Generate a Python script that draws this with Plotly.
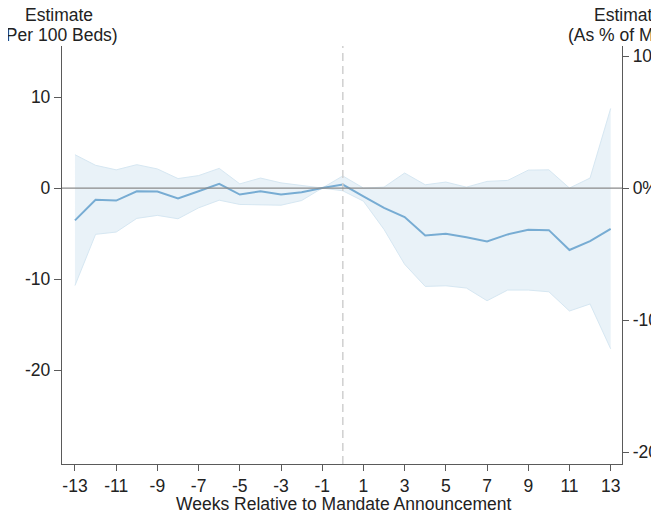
import plotly.graph_objects as go

weeks = list(range(-13, 14))
estimate = [-3.55, -1.29, -1.37, -0.35, -0.38, -1.15, -0.35, 0.46, -0.71, -0.35, -0.71, -0.46, 0.0,
            0.38, -0.9, -2.17, -3.19, -5.2, -5.02, -5.39, -5.86, -5.09, -4.58, -4.62, -6.8, -5.82, -4.47]
ci_upper = [3.66, 2.5, 2.0, 2.57, 2.1, 1.04, 1.37, 2.16, 0.46, 1.1, 0.57, 0.3, 0.0,
            1.33, 0.0, 0.1, 1.65, 0.36, 0.66, 0.1, 0.73, 0.84, 1.97, 2.0, 0.0, 1.1, 8.74]
ci_lower = [-10.7, -5.08, -4.83, -3.33, -3.0, -3.37, -2.17, -1.33, -1.8, -1.84, -1.88, -1.37, 0.0,
            -0.3, -1.44, -4.54, -8.37, -10.8, -10.73, -10.98, -12.37, -11.2, -11.2, -11.39, -13.5, -12.73, -17.65]

x_ticks = list(range(-13, 14, 2))
x_tick_labels = [str(v) for v in x_ticks]
left_ticks = [10, 0, -10, -20]
left_tick_labels = ["10", "0", "-10", "-20"]
right_ticks = [10, 0, -10, -20]
right_tick_labels = ["10%", "0%", "-10%", "-20%"]
mean_level = 145.0  # per 100 beds, used to scale the % axis

y_range = [-30.3, 15.6]
y2_range = [v * 100.0 / mean_level for v in y_range]

FONT = "Liberation Sans, Arial, Helvetica, sans-serif"
FS = 17.5
AX = "#5a5a5a"

fig = go.Figure()
fig.add_trace(go.Scatter(x=weeks, y=ci_upper, mode="lines",
                         line=dict(color="#d6e7f2", width=1), hoverinfo="skip", showlegend=False))
fig.add_trace(go.Scatter(x=weeks, y=ci_lower, mode="lines", fill="tonexty",
                         fillcolor="rgba(225,238,246,0.75)",
                         line=dict(color="#d6e7f2", width=1), hoverinfo="skip", showlegend=False))
fig.add_trace(go.Scatter(x=weeks, y=estimate, mode="lines",
                         line=dict(color="#77acd3", width=2), showlegend=False))
fig.add_trace(go.Scatter(x=[], y=[], yaxis="y2", showlegend=False))

fig.add_shape(type="line", xref="x", yref="paper", x0=0, x1=0, y0=0, y1=1,
              line=dict(color="#cfcfcf", width=1.5, dash="8px,5px"), layer="above")
fig.add_shape(type="line", xref="paper", yref="y", x0=0, x1=1, y0=0, y1=0,
              line=dict(color="#8a8a8a", width=1.3), layer="above")

common = dict(showgrid=False, zeroline=False, showline=True, linecolor=AX, linewidth=1.3,
              ticks="outside", tickcolor=AX, tickwidth=1.2, tickfont=dict(size=FS),
              automargin=False)

# page has an 8px body margin; figure is sized to fit the remaining window
fig.update_layout(
    width=651, height=505,
    margin=dict(l=54, r=37, t=38, b=49),
    paper_bgcolor="white", plot_bgcolor="white",
    font=dict(family=FONT, size=FS, color="#222"),
    xaxis=dict(range=[-13.63, 13.55], tickvals=x_ticks, ticktext=x_tick_labels, ticklen=6, **common),
    yaxis=dict(range=y_range, tickvals=left_ticks, ticktext=left_tick_labels, ticklen=7, **common),
    yaxis2=dict(range=y2_range, overlaying="y", side="right", tickvals=right_ticks,
                ticktext=right_tick_labels, ticklen=6, **common),
)

def px_x(p):
    return (p - 62) / 560.0

def px_y(p):
    return 1 - (p - 46) / 418.0

ann = [
    ("Estimate", 58.5, 15.5),
    ("(Per 100 Beds)", 58.5, 34.5),
    ("Estimate", 628, 15.5),
    ("(As % of Mean)", 628, 34.5),
    ("Weeks Relative to Mandate Announcement", 343, 503.5),
]
for txt, xp, yp in ann:
    fig.add_annotation(text=txt, xref="paper", yref="paper", x=px_x(xp), y=px_y(yp),
                       xanchor="center", yanchor="middle", showarrow=False,
                       font=dict(family=FONT, size=FS, color="#222"))

fig.write_html("out.html")
